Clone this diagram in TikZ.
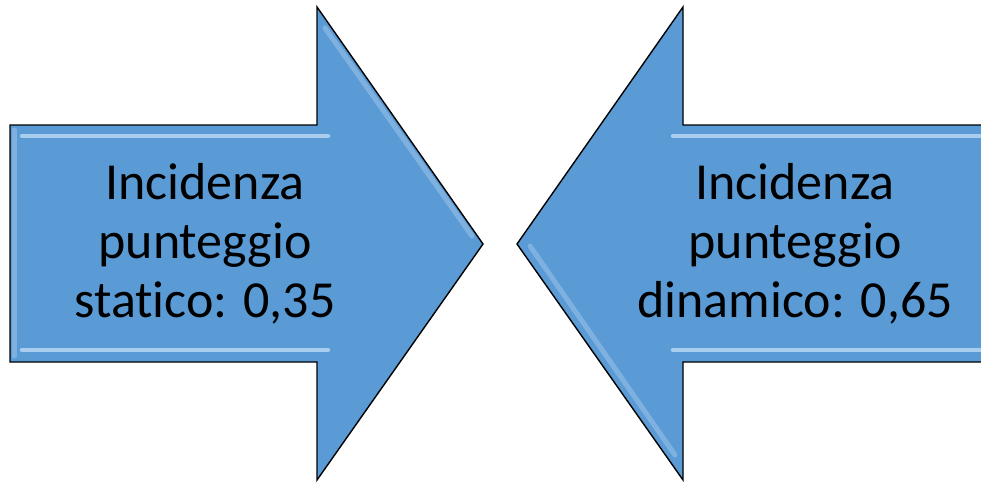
\documentclass[tikz,border=0pt]{standalone}
\usepackage{fontspec}
\setmainfont{Carlito}[Ligatures=NoCommon]
\definecolor{arrowfill}{HTML}{5B9BD5}
\definecolor{bevel}{HTML}{A9CDEE}
\tikzset{
  arrowshape/.style={fill=arrowfill, draw=black, line width=1.4pt, line join=miter},
  bevelline/.style={draw=bevel, line width=4.5pt, line cap=round},
  softbevel/.style={draw=bevel, line width=5pt, opacity=0.45, line cap=round},
  label/.style={align=center, font=\fontsize{52}{59}\selectfont, inner sep=0pt}
}
\begin{document}
\begin{tikzpicture}[x=1pt,y=-1pt]
\useasboundingbox (0,0) rectangle (981,482);
\clip (0,0) rectangle (981,482);
% left arrow (pointing right)
\path[arrowshape] (10,125) -- (317,125) -- (317,7) -- (483,244) -- (317,480) -- (317,362) -- (10,362) -- cycle;
\draw[softbevel] (325,28) -- (472,236);
\draw[softbevel] (14,130) -- (14,356);
\draw[bevelline] (22,136) -- (328,136);
\draw[bevelline] (22,350) -- (328,350);
% right arrow (pointing left)
\path[arrowshape] (995,125) -- (683,125) -- (683,7) -- (517,244) -- (683,480) -- (683,362) -- (995,362) -- cycle;
\draw[softbevel] (530,246) -- (675,455);
\draw[bevelline] (673,136) -- (985,136);
\draw[bevelline] (673,350) -- (985,350);
% labels
\node[label] (static) at (205,244) {Incidenza\\punteggio\\statico: 0,35};
\node[label] (dynamic) at (795,244) {Incidenza\\punteggio\\dinamico: 0,65};
\end{tikzpicture}
\end{document}
